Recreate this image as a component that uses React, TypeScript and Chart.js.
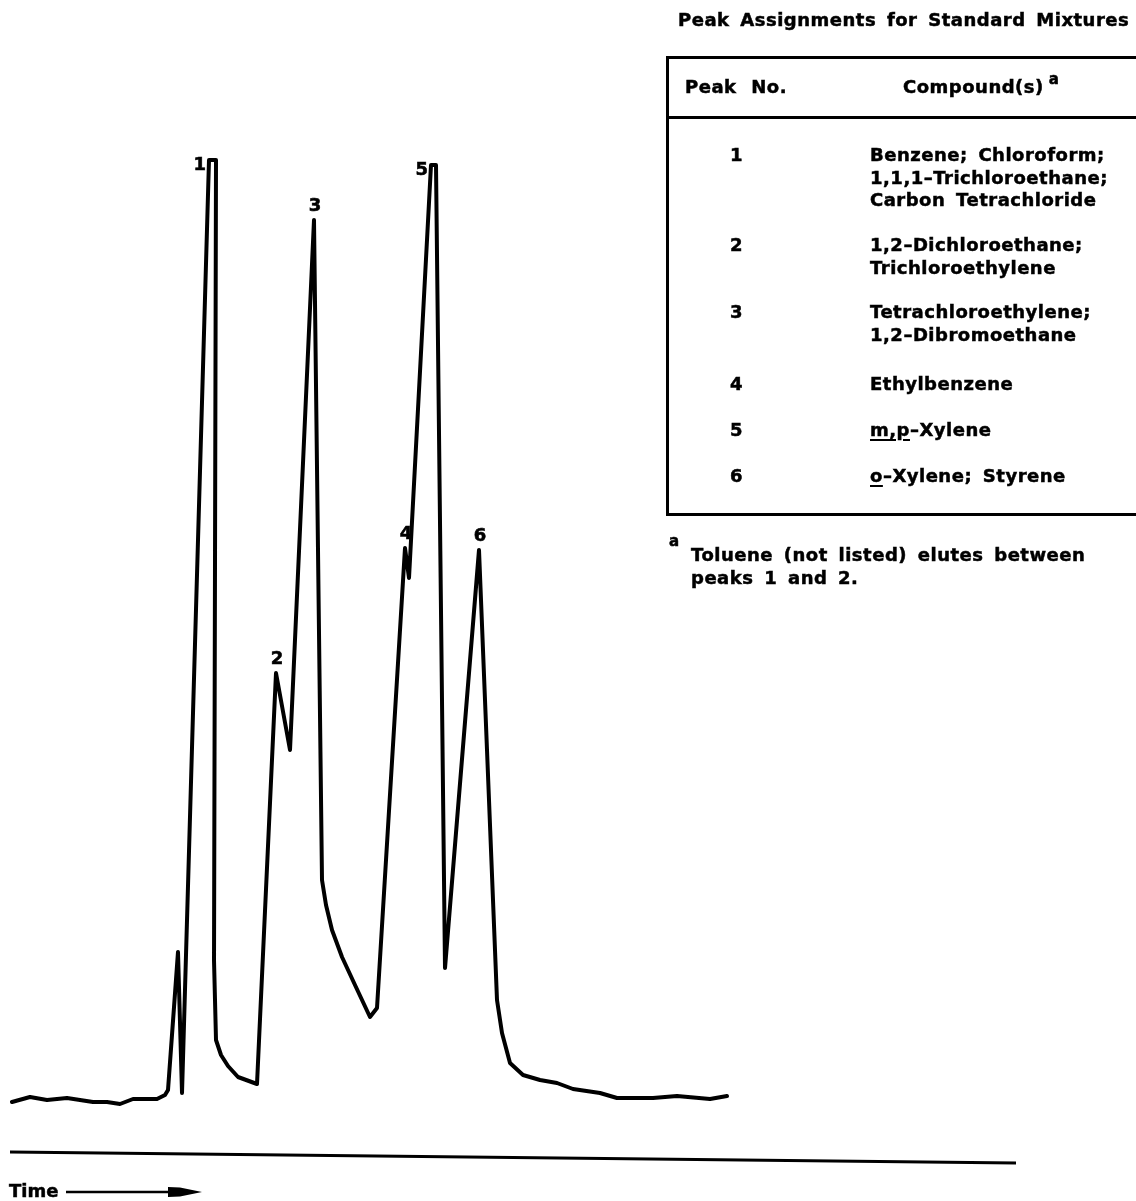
import React, { useEffect, useRef } from "react";
import { Chart, registerables } from "chart.js";

Chart.register(...registerables);

// ---- Data (time in arbitrary units, detector signal in arbitrary units) ----
const timeValues = [
  0.2, 2.0, 3.7, 5.7, 8.3, 9.7, 11.0, 12.3, 14.7, 15.5, 15.8, 16.8, 17.2,
  19.9, 20.6, 20.4, 20.6, 21.1, 21.8, 22.8, 24.7, 26.6, 28.0, 30.4, 31.2,
  31.6, 32.2, 33.2, 34.5, 36.0, 36.7, 39.5, 39.9, 42.1, 42.6, 43.5, 46.9,
  48.7, 49.2, 50.0, 51.3, 53.0, 54.7, 56.3, 59.0, 60.7, 64.3, 66.7, 70.0, 71.7,
];
const signalValues = [
  6.8, 7.3, 7.0, 7.2, 6.8, 6.8, 6.6, 7.1, 7.1, 7.5, 8.0, 21.8, 7.7,
  101.0, 101.0, 21.0, 13.0, 11.5, 10.4, 9.3, 8.6, 49.7, 42.0, 95.0, 29.0,
  26.5, 24.0, 21.3, 18.5, 15.3, 16.2, 62.2, 59.2, 100.5, 100.5, 20.2, 62.0,
  17.0, 13.7, 10.7, 9.5, 9.0, 8.7, 8.1, 7.7, 7.2, 7.2, 7.4, 7.1, 7.4,
];
const peakNumbers = ["1", "2", "3", "4", "5", "6"];
const peakIndex = [13, 21, 23, 31, 33, 36];

const timeAxisX = [0, 100.6];
const timeAxisY = [1.8, 0.7];

const tableTitle = "Peak Assignments for Standard Mixtures";
const headerPeak = "Peak No.";
const headerCompound = "Compound(s)";
const rowPeaks = ["1", "2", "3", "4", "5", "6"];
const rowCompounds: string[][] = [
  ["Benzene; Chloroform;", "1,1,1\u2013Trichloroethane;", "Carbon Tetrachloride"],
  ["1,2\u2013Dichloroethane;", "Trichloroethylene"],
  ["Tetrachloroethylene;", "1,2\u2013Dibromoethane"],
  ["Ethylbenzene"],
  ["m,p|\u2013Xylene"],
  ["o|\u2013Xylene; Styrene"],
];
const footnoteMark = "a";
const footnoteLines = ["Toluene (not listed) elutes between", "peaks 1 and 2."];
const axisLabel = "Time";

// ---- Styles / layout ----
const FONT = '"DejaVu Sans", "Liberation Sans", sans-serif';
const rowTops = [[145, 167.5, 190], [235, 257.5], [302, 325], [374], [420], [466]];

const labelSide: Record<string, string> = { "1": "left", "5": "left" };

const peakLabelPlugin = {
  id: "peakLabels",
  afterDatasetsDraw(chart: any) {
    const meta = chart.getDatasetMeta(0);
    const ctx = chart.ctx;
    ctx.save();
    ctx.fillStyle = "#000";
    ctx.strokeStyle = "#000";
    ctx.lineWidth = 0.6;
    ctx.font = `bold 18px ${FONT}`;
    peakNumbers.forEach((lab, i) => {
      const pt = meta.data[peakIndex[i]];
      if (!pt) return;
      let x: number, y: number;
      if (labelSide[lab] === "left") {
        ctx.textAlign = "right";
        ctx.textBaseline = "middle";
        x = pt.x - 3;
        y = pt.y + 5;
      } else {
        ctx.textAlign = "center";
        ctx.textBaseline = "alphabetic";
        x = pt.x + 1;
        y = pt.y - 9;
      }
      ctx.fillText(lab, x, y);
      ctx.strokeText(lab, x, y);
    });
    ctx.restore();
  },
};

const textStyle = (left: number, top: number, extra: any = {}): React.CSSProperties => ({
  position: "absolute",
  left,
  top,
  font: `bold 18px ${FONT}`,
  lineHeight: "20px",
  whiteSpace: "pre",
  color: "#000",
  letterSpacing: "0.5px",
  wordSpacing: "4px",
  WebkitTextStroke: "0.5px #000",
  ...extra,
});

function renderCompound(s: string) {
  if (s.includes("|")) {
    const [u, rest] = s.split("|");
    return (
      <>
        <span style={{ textDecoration: "underline", textDecorationThickness: "2px", textUnderlineOffset: "3px" }}>{u}</span>
        {rest}
      </>
    );
  }
  return s;
}

export default function App() {
  const canvasRef = useRef<HTMLCanvasElement | null>(null);

  useEffect(() => {
    if (!canvasRef.current) return;
    const chart = new Chart(canvasRef.current, {
      type: "line",
      data: {
        datasets: [
          {
            label: "Chromatogram",
            data: timeValues.map((t, i) => ({ x: t, y: signalValues[i] })),
            borderColor: "#000",
            borderWidth: 4,
            tension: 0,
            fill: false,
            pointRadius: 0,
            borderJoinStyle: "round",
            borderCapStyle: "round",
          },
          {
            label: "Time axis",
            data: timeAxisX.map((t, i) => ({ x: t, y: timeAxisY[i] })),
            borderColor: "#000",
            borderWidth: 3,
            tension: 0,
            fill: false,
            pointRadius: 0,
          },
        ],
      },
      options: {
        animation: false,
        responsive: false,
        devicePixelRatio: 1,
        layout: { padding: { left: 10, right: 116, top: 120, bottom: 31 } },
        scales: {
          x: { type: "linear", min: 0, max: 101, display: false },
          y: { type: "linear", min: 0, max: 105, display: false },
        },
        plugins: { legend: { display: false }, tooltip: { enabled: false } },
      },
      plugins: [peakLabelPlugin],
    } as any);
    return () => chart.destroy();
  }, []);

  return (
    <div style={{ position: "fixed", left: 0, top: 0, width: 1136, height: 1201, overflow: "hidden", background: "#fff" }}>
      <canvas ref={canvasRef} width={1136} height={1201} style={{ position: "absolute", left: 0, top: 0 }} />

      {/* Table */}
      <div style={textStyle(678, 10, { wordSpacing: "4px" })}>{tableTitle}</div>
      <div
        style={{
          position: "absolute",
          left: 666,
          top: 56,
          width: 600,
          height: 460,
          border: "3px solid #000",
          boxSizing: "border-box",
        }}
      />
      <div style={{ position: "absolute", left: 666, top: 116, width: 600, height: 3, background: "#000" }} />
      <div style={textStyle(685, 77, { wordSpacing: "8px" })}>{headerPeak}</div>
      <div style={textStyle(903, 77)}>
        {headerCompound}
        <span style={{ fontSize: 15, position: "relative", top: -9, marginLeft: 5 }}>{footnoteMark}</span>
      </div>
      {rowPeaks.map((p, i) => (
        <div key={"p" + i} style={textStyle(730, rowTops[i][0])}>{p}</div>
      ))}
      {rowCompounds.map((lines, i) =>
        lines.map((ln, j) => (
          <div key={"c" + i + "_" + j} style={textStyle(870, rowTops[i][j])}>{renderCompound(ln)}</div>
        ))
      )}

      {/* Footnote */}
      <div style={textStyle(669, 531, { fontSize: 15 })}>{footnoteMark}</div>
      <div style={textStyle(691, 545)}>{footnoteLines[0]}</div>
      <div style={textStyle(691, 568)}>{footnoteLines[1]}</div>

      {/* Time arrow */}
      <div style={textStyle(9, 1181, { fontSize: 18, letterSpacing: "0px" })}>{axisLabel}</div>
      <svg style={{ position: "absolute", left: 0, top: 1180 }} width={220} height={21}>
        <line x1={66} y1={12} x2={172} y2={12} stroke="#000" strokeWidth={2.5} />
        <polygon points="168,7 180,7.5 202,12 180,16.5 168,17" fill="#000" />
      </svg>
    </div>
  );
}
